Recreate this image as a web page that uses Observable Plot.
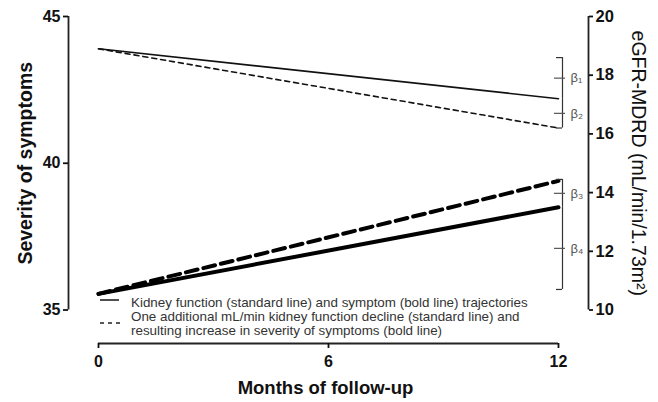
<!DOCTYPE html>
<html>
<head>
<meta charset="utf-8">
<script src="https://cdn.jsdelivr.net/npm/d3@7"></script>
<script src="https://cdn.jsdelivr.net/npm/@observablehq/plot@0.6"></script>
<style>
  html, body { margin: 0; padding: 0; background: #fff; }
  #wrap { position: relative; width: 658px; height: 402px; font-family: "Liberation Sans", Arial, sans-serif; }
  #legend { position: absolute; left: 98px; top: 296px; font-size: 13.4px; color: #333; line-height: 13.8px; }
  #legend .row { display: flex; align-items: flex-start; }
  #legend svg { flex: none; width: 33px; height: 14px; }
</style>
</head>
<body>
<div id="wrap"></div>
<script>
// ---- data ----
const months = [0, 12];
const eGFRStandard = [18.9, 17.2];      // kidney function, standard line (right axis)
const eGFRDecline = [18.9, 16.2];       // one additional mL/min decline (right axis)
const symptomStandard = [35.55, 38.5];  // symptom trajectory, bold (left axis)
const symptomIncrease = [35.55, 39.4];  // resulting increase, bold dashed (left axis)

const betaLabels = ["β₁", "β₂", "β₃", "β₄"];
const betaTop = [43.6, 42.2, 39.45, 38.5];      // in left-axis units
const betaBottom = [42.2, 41.2, 38.5, 35.7];

const leftTicks = [35, 40, 45];
const rightTicks = [10, 12, 14, 16, 18, 20];
const xTicks = [0, 6, 12];

// right axis (eGFR 10–20) shares the frame with left axis (35–45)
const toLeft = v => v + 25;
const toRight = v => v - 25;

const rows = (ys, conv) => months.map((m, i) => ({month: m, value: conv(ys[i])}));
const idt = v => v;

const betas = betaLabels.map((label, i) => ({
  label, top: betaTop[i], bottom: betaBottom[i], mid: (betaTop[i] + betaBottom[i]) / 2
}));
const bracketEnds = [
  {y: betaTop[0]}, {y: betaBottom[1]}, {y: betaTop[2]}, {y: betaBottom[3]}
];

const font = "Liberation Sans, Arial, sans-serif";

const chart = Plot.plot({
  width: 658,
  height: 402,
  marginLeft: 68,
  marginRight: 70,
  marginTop: 16,
  marginBottom: 59,
  style: {fontFamily: font, color: "#111", background: "#fff"},
  x: {domain: [0, 12], insetLeft: 30, insetRight: 30},
  y: {domain: [35, 45], insetBottom: 33.5},
  marks: [
    // axis lines (detached, Prism style)
    Plot.ruleX([0], {y1: 35, y2: 45, dx: -30, stroke: "#222", strokeWidth: 1.8}),
    Plot.ruleX([12], {y1: 35, y2: 45, dx: 30, stroke: "#222", strokeWidth: 1.8}),
    Plot.ruleY([35], {x1: 0, x2: 12, dy: 33.5, stroke: "#222", strokeWidth: 1.8}),

    Plot.axisY({anchor: "left", ticks: leftTicks, tickSize: 5, tickPadding: 3,
      fontSize: 16, fontWeight: "bold", label: null, strokeWidth: 1.8}),
    Plot.axisY({anchor: "right", ticks: rightTicks.map(toLeft), tickFormat: d => toRight(d),
      tickSize: 4, tickPadding: 3, fontSize: 16.5, fontWeight: "bold", label: null, strokeWidth: 1.8}),
    Plot.axisX({anchor: "bottom", ticks: xTicks, tickSize: 5, tickPadding: 7,
      fontSize: 16, fontWeight: "bold", label: null, strokeWidth: 1.8}),

    // axis titles
    Plot.text(["Severity of symptoms"], {y: () => 40, frameAnchor: "left", rotate: -90, dx: -43,
      textAnchor: "middle", lineAnchor: "middle", fontSize: 19.5, fontWeight: "bold", fill: "#111"}),
    Plot.text(["eGFR-MDRD (mL/min/1.73m²)"], {y: () => 40, frameAnchor: "right", rotate: 90, dx: 50,
      textAnchor: "middle", lineAnchor: "middle", fontSize: 19.5, fill: "#111"}),
    Plot.text(["Months of follow-up"], {x: () => 6, frameAnchor: "bottom", dx: -3, dy: 45,
      textAnchor: "middle", lineAnchor: "middle", fontSize: 18.5, fontWeight: "bold", fill: "#111"}),

    // trajectories
    Plot.line(rows(eGFRStandard, toLeft), {x: "month", y: "value", stroke: "#111", strokeWidth: 1.6}),
    Plot.line(rows(eGFRDecline, toLeft), {x: "month", y: "value", stroke: "#111", strokeWidth: 1.6,
      strokeDasharray: "5,4"}),
    Plot.line(rows(symptomStandard, idt), {x: "month", y: "value", stroke: "#000", strokeWidth: 4}),
    Plot.line(rows(symptomIncrease, idt), {x: "month", y: "value", stroke: "#000", strokeWidth: 4,
      strokeDasharray: "12,6"}),

    // beta brackets
    Plot.ruleX(betas, {x: () => 12, y1: "top", y2: "bottom", dx: 4, stroke: "#333", strokeWidth: 1.2}),
    Plot.ruleY(bracketEnds, {y: "y", x1: () => 12, x2: () => 12, insetLeft: -2, insetRight: -4,
      stroke: "#333", strokeWidth: 1.2}),
    Plot.ruleY(betas, {y: "mid", x1: () => 12, x2: () => 12, insetLeft: -4, insetRight: -7,
      stroke: "#555", strokeWidth: 1.2}),
    Plot.text(betas, {x: () => 12, y: "mid", text: "label", dx: 12, textAnchor: "start",
      fontSize: 13, fill: "#555"})
  ]
});

const wrap = document.getElementById("wrap");
wrap.appendChild(chart);

const legend = document.createElement("div");
legend.id = "legend";
legend.innerHTML = `
  <div class="row"><svg><line x1="2" x2="21" y1="4" y2="4" stroke="#222" stroke-width="1.6"/></svg>
    <span>Kidney function (standard line) and symptom (bold line) trajectories</span></div>
  <div class="row"><svg style="height:27px"><line x1="2" x2="22" y1="13" y2="13" stroke="#222" stroke-width="1.6" stroke-dasharray="4,4"/></svg>
    <span>One additional mL/min kidney function decline (standard line) and<br>resulting increase in severity of symptoms (bold line)</span></div>`;
wrap.appendChild(legend);
</script>
</body>
</html>
